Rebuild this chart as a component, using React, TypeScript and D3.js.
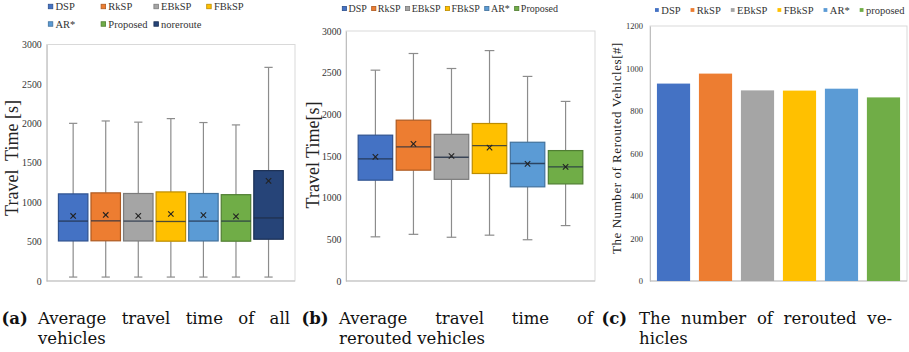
import React, { useEffect, useRef } from 'react';
import * as d3 from 'd3';

// ---- data ----
const methodsA = ['DSP', 'RkSP', 'EBkSP', 'FBkSP', 'AR*', 'Proposed', 'noreroute'];
const methodsB = ['DSP', 'RkSP', 'EBkSP', 'FBkSP', 'AR*', 'Proposed'];
const methodsC = ['DSP', 'RkSP', 'EBkSP', 'FBkSP', 'AR*', 'proposed'];

// (a) travel time of all vehicles [s]
const minA = [50, 50, 50, 50, 50, 50, 50];
const q1A = [508, 510, 508, 505, 508, 505, 530];
const medA = [760, 763, 760, 755, 760, 760, 800];
const q3A = [1105, 1118, 1110, 1130, 1110, 1095, 1400];
const maxA = [2000, 2030, 2015, 2060, 2010, 1980, 2710];
const meanA = [825, 838, 826, 850, 835, 820, 1270];

// (b) travel time of rerouted vehicles [s]
const minB = [530, 560, 525, 550, 495, 665];
const q1B = [1210, 1330, 1220, 1290, 1130, 1165];
const medB = [1465, 1610, 1485, 1625, 1410, 1370];
const q3B = [1750, 1930, 1760, 1890, 1665, 1565];
const maxB = [2530, 2730, 2550, 2765, 2455, 2155];
const meanB = [1490, 1645, 1500, 1600, 1405, 1370];

// (c) number of rerouted vehicles
const rerouted = [929, 976, 897, 896, 905, 864];

const ticksTime = [0, 500, 1000, 1500, 2000, 2500, 3000];
const ticksCount = [0, 200, 400, 600, 800, 1000, 1200];

const captionA = ['(a)', 'Average travel time of all', 'vehicles'];
const captionB = ['(b)', 'Average travel time of', 'rerouted vehicles'];
const captionC = ['(c)', 'The number of rerouted ve-', 'hicles'];

const fills = ['#4472C4', '#ED7D31', '#A5A5A5', '#FFC000', '#5B9BD5', '#70AD47', '#264478'];
const strokes = ['#2F528F', '#AE5A21', '#7B7B7B', '#BC8C00', '#41719C', '#507E32', '#1A2F54'];

const SERIF = '"Liberation Serif", "Times New Roman", serif';
const CAPFONT = '"DejaVu Serif", serif';

function frame(g, x0, x1, y, ticks, fontSize, pad) {
  const [yb, yt] = y.range();
  g.append('rect')
    .attr('x', x0).attr('y', yt)
    .attr('width', x1 - x0).attr('height', yb - yt)
    .attr('fill', 'none').attr('stroke', '#d9d9d9');
  const ax = g.append('g')
    .attr('transform', `translate(${x0},0)`)
    .call(d3.axisLeft(y).tickValues(ticks).tickSize(0).tickPadding(pad).tickFormat(d3.format('d')));
  ax.attr('color', '#333');
  ax.selectAll('text').style('font-family', SERIF).style('font-size', fontSize + 'px');
  ax.select('.domain').attr('stroke', '#bfbfbf');
  g.append('line')
    .attr('x1', x0).attr('x2', x1).attr('y1', yb).attr('y2', yb)
    .attr('stroke', '#bfbfbf');
}

function yTitle(g, text, cx, cy, size, spacing = 0) {
  g.append('text')
    .attr('transform', `translate(${cx},${cy}) rotate(-90)`)
    .attr('text-anchor', 'middle')
    .attr('dy', '0.35em')
    .style('font-family', SERIF)
    .style('font-size', size + 'px')
    .attr('letter-spacing', spacing)
    .style('white-space', 'pre')
    .attr('fill', '#222')
    .text(text);
}

// legend laid out left to right; wraps after `perRow` items
function legend(g, names, x0, y0, opt) {
  const { size, sq, gap, after, colW = 0, perRow = 99, rowH = 0, border = true } = opt;
  let x = x0;
  names.forEach((name, i) => {
    if (i > 0 && i % perRow === 0) x = x0;
    const y = y0 + Math.floor(i / perRow) * rowH;
    g.append('rect')
      .attr('x', x).attr('y', y - sq / 2)
      .attr('width', sq).attr('height', sq)
      .attr('fill', fills[i])
      .attr('stroke', border ? strokes[i] : 'none')
      .attr('stroke-width', 0.8);
    const t = g.append('text')
      .attr('x', x + sq + gap).attr('y', y)
      .attr('dy', '0.35em')
      .style('font-family', SERIF).style('font-size', size + 'px')
      .attr('fill', '#333')
      .text(name);
    const w = (t.node() as SVGTextElement).getComputedTextLength();
    x += Math.max(colW, sq + gap + w + after);
  });
}

function boxes(g, names, x, y, stats) {
  const { min, q1, med, q3, max, mean } = stats;
  const bw = x.bandwidth();
  names.forEach((name, i) => {
    const left = x(name);
    const cx = left + bw / 2;
    const cap = bw * 0.14;
    const wg = g.append('g').attr('stroke', '#8c8c8c').attr('stroke-width', 1.2);
    wg.append('line').attr('x1', cx).attr('x2', cx).attr('y1', y(min[i])).attr('y2', y(q1[i]));
    wg.append('line').attr('x1', cx).attr('x2', cx).attr('y1', y(q3[i])).attr('y2', y(max[i]));
    wg.append('line').attr('x1', cx - cap).attr('x2', cx + cap).attr('y1', y(min[i])).attr('y2', y(min[i]));
    wg.append('line').attr('x1', cx - cap).attr('x2', cx + cap).attr('y1', y(max[i])).attr('y2', y(max[i]));
    g.append('rect')
      .attr('x', left).attr('y', y(q3[i]))
      .attr('width', bw).attr('height', y(q1[i]) - y(q3[i]))
      .attr('fill', fills[i]).attr('stroke', strokes[i]).attr('stroke-width', 1.2);
    g.append('line')
      .attr('x1', left).attr('x2', left + bw)
      .attr('y1', y(med[i])).attr('y2', y(med[i]))
      .attr('stroke', '#1f2d44').attr('stroke-opacity', 0.8).attr('stroke-width', 1.3);
    const my = y(mean[i]);
    const s = 2.7;
    const mg = g.append('g').attr('stroke', '#222').attr('stroke-width', 1.1);
    mg.append('line').attr('x1', cx - s).attr('x2', cx + s).attr('y1', my - s).attr('y2', my + s);
    mg.append('line').attr('x1', cx - s).attr('x2', cx + s).attr('y1', my + s).attr('y2', my - s);
  });
}

// justified first line, ragged second line, like the LaTeX subcaptions
function caption(g, parts, xLabel, xText, xEnd, base1, base2) {
  const [label, line1, line2] = parts;
  g.append('text')
    .attr('x', xLabel).attr('y', base1)
    .style('font-family', CAPFONT).style('font-size', '16.5px').attr('font-weight', 'bold')
    .attr('fill', '#111').text(label);
  const words = line1.split(' ');
  const nodes = words.map(w => g.append('text')
    .attr('y', base1)
    .style('font-family', CAPFONT).style('font-size', '16.5px')
    .attr('fill', '#111').text(w));
  const widths = nodes.map(n => (n.node() as SVGTextElement).getComputedTextLength());
  const space = (xEnd - xText - d3.sum(widths)) / (words.length - 1);
  let x = xText;
  nodes.forEach((n, i) => { n.attr('x', x); x += widths[i] + space; });
  g.append('text')
    .attr('x', xText).attr('y', base2)
    .style('font-family', CAPFONT).style('font-size', '16.5px')
    .attr('fill', '#111').text(line2);
}

const App = () => {
  const ref = useRef(null);

  useEffect(() => {
    const svg = d3.select(ref.current);
    svg.selectAll('*').remove();

    // ---------- (a) ----------
    const ga = svg.append('g');
    const yA = d3.scaleLinear().domain([0, 3000]).range([281, 44.5]);
    const xA = d3.scaleBand().domain(methodsA).range([46.7, 295]).paddingInner(0.095).paddingOuter(0.36);
    frame(ga, 46.7, 295, yA, ticksTime, 9.8, 5);
    boxes(ga, methodsA, xA, yA, { min: minA, q1: q1A, med: medA, q3: q3A, max: maxA, mean: meanA });
    yTitle(ga, 'Travel  Time [s]', 11.7, 158, 18);
    legend(ga, methodsA, 48.3, 6.5, { size: 10.5, sq: 4.5, gap: 2.7, after: 2.5, colW: 52.8, perRow: 4, rowH: 17.5 });

    // ---------- (b) ----------
    const gb = svg.append('g');
    const yB = d3.scaleLinear().domain([0, 3000]).range([281, 31]);
    const xB = d3.scaleBand().domain(methodsB).range([346, 595]).paddingInner(0.093).paddingOuter(0.32);
    frame(gb, 346, 595, yB, ticksTime, 9.8, 4.5);
    boxes(gb, methodsB, xB, yB, { min: minB, q1: q1B, med: medB, q3: q3B, max: maxB, mean: meanB });
    yTitle(gb, 'Travel Time[s]', 312.5, 155, 18);
    legend(gb, methodsB, 342.3, 8.5, { size: 10, sq: 4.2, gap: 2, after: 4.8 });

    // ---------- (c) ----------
    const gc = svg.append('g');
    const yC = d3.scaleLinear().domain([0, 1200]).range([281, 26]);
    const xC = d3.scaleBand().domain(methodsC).range([650, 907]).paddingInner(0.21).paddingOuter(0.165);
    frame(gc, 650, 907, yC, ticksCount, 8.5, 7);
    gc.selectAll('.bar')
      .data(rerouted)
      .join('rect')
      .attr('class', 'bar')
      .attr('x', (d, i) => xC(methodsC[i]))
      .attr('y', d => yC(d))
      .attr('width', xC.bandwidth())
      .attr('height', d => yC(0) - yC(d))
      .attr('fill', (d, i) => fills[i]);
    yTitle(gc, 'The Number of Rerouted Vehicles[#]', 616.5, 148, 13, 0.55);
    legend(gc, methodsC, 655, 10, { size: 10.5, sq: 3.8, gap: 2.5, after: 10, border: false });

    // ---------- captions ----------
    const gt = svg.append('g');
    caption(gt, captionA, 1.5, 38, 290, 324, 344);
    caption(gt, captionB, 301.5, 339, 593, 324, 344);
    caption(gt, captionC, 601.5, 639, 892, 324, 344);
  }, []);

  return (
    <div style={{ position: 'absolute', left: 0, top: 0, background: '#fff' }}>
      <svg ref={ref} width={909} height={352}></svg>
    </div>
  );
};

export default App;
